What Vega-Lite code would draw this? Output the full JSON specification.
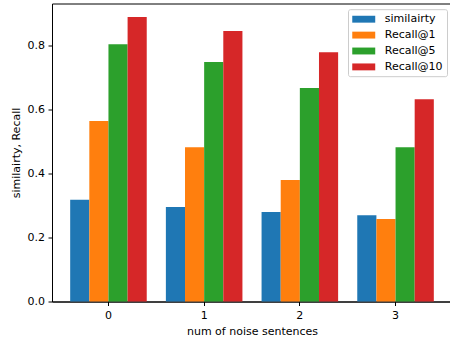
{
  "$schema": "https://vega.github.io/schema/vega-lite/v6.json",
  "width": 400,
  "height": 298,
  "autosize": {"type": "none"},
  "padding": {"left": 52, "top": 3.5, "right": 0, "bottom": 38.5},
  "background": "white",
  "config": {
    "font": "DejaVu Sans",
    "view": {"stroke": "black", "strokeWidth": 1},
    "axis": {
      "grid": false,
      "domainColor": "black",
      "tickColor": "black",
      "labelColor": "black",
      "titleColor": "black",
      "labelFontSize": 11,
      "titleFontSize": 11,
      "titleFontWeight": "normal",
      "tickSize": 4,
      "labelPadding": 3.5
    }
  },
  "data": {
    "values": [
      {"n": "0", "metric": "similairty", "value": 0.318},
      {"n": "0", "metric": "Recall@1", "value": 0.565},
      {"n": "0", "metric": "Recall@5", "value": 0.805},
      {"n": "0", "metric": "Recall@10", "value": 0.890},
      {"n": "1", "metric": "similairty", "value": 0.296},
      {"n": "1", "metric": "Recall@1", "value": 0.483},
      {"n": "1", "metric": "Recall@5", "value": 0.749},
      {"n": "1", "metric": "Recall@10", "value": 0.846},
      {"n": "2", "metric": "similairty", "value": 0.280},
      {"n": "2", "metric": "Recall@1", "value": 0.380},
      {"n": "2", "metric": "Recall@5", "value": 0.668},
      {"n": "2", "metric": "Recall@10", "value": 0.780},
      {"n": "3", "metric": "similairty", "value": 0.270},
      {"n": "3", "metric": "Recall@1", "value": 0.258},
      {"n": "3", "metric": "Recall@5", "value": 0.483},
      {"n": "3", "metric": "Recall@10", "value": 0.633}
    ]
  },
  "mark": {"type": "bar"},
  "encoding": {
    "x": {
      "field": "n",
      "type": "nominal",
      "scale": {"paddingInner": 0.2, "paddingOuter": 0.19},
      "axis": {"labelAngle": 0, "title": "num of noise sentences", "titlePadding": 5}
    },
    "xOffset": {
      "field": "metric",
      "type": "nominal",
      "sort": ["similairty", "Recall@1", "Recall@5", "Recall@10"],
      "scale": {"paddingInner": 0, "paddingOuter": 0}
    },
    "y": {
      "field": "value",
      "type": "quantitative",
      "scale": {"domain": [0, 0.9324], "nice": false, "zero": true},
      "axis": {"values": [0, 0.2, 0.4, 0.6, 0.8], "format": ".1f", "title": "similairty, Recall", "titlePadding": 6}
    },
    "color": {
      "field": "metric",
      "type": "nominal",
      "sort": ["similairty", "Recall@1", "Recall@5", "Recall@10"],
      "scale": {
        "domain": ["similairty", "Recall@1", "Recall@5", "Recall@10"],
        "range": ["#1f77b4", "#ff7f0e", "#2ca02c", "#d62728"]
      },
      "legend": {
        "title": null,
        "orient": "none",
        "legendX": 296,
        "legendY": 5.7,
        "padding": 4,
        "rowPadding": 4.9,
        "strokeColor": "#cccccc",
        "fillColor": "rgba(255,255,255,0.8)",
        "cornerRadius": 2,
        "symbolType": "M-1,-0.6L3,-0.6L3,0.6L-1,0.6Z",
        "symbolSize": 132,
        "symbolStrokeWidth": 0,
        "symbolOpacity": 1,
        "labelOffset": 20.8,
        "labelFontSize": 11,
        "labelColor": "black"
      }
    }
  }
}
